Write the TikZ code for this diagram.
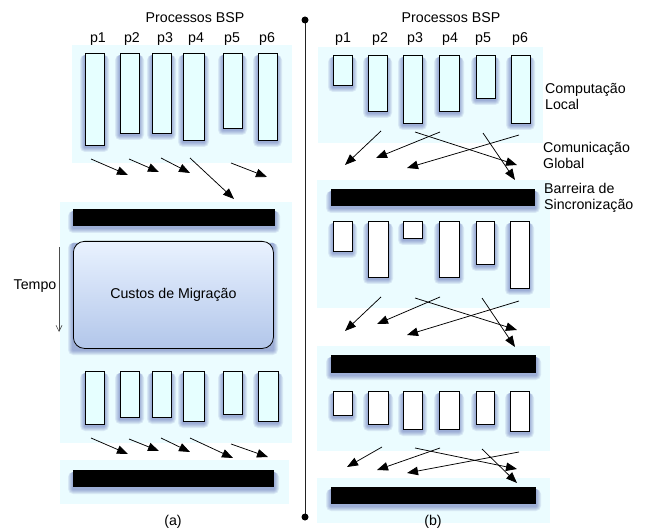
\documentclass[tikz,border=0pt]{standalone}
\usepackage{fontspec}
\setmainfont{Liberation Sans}
\usetikzlibrary{arrows.meta}
\definecolor{bgblue}{HTML}{EBFCFF}
\definecolor{barcyan}{HTML}{E6FFFF}
\definecolor{shblue}{HTML}{2A3A9A}
\definecolor{boxtop}{HTML}{E9F2FF}
\definecolor{boxbot}{HTML}{B2C6EA}
\definecolor{divgray}{HTML}{222222}
\tikzset{
 panel/.style={fill=bgblue, draw=none},
 procbar/.style={draw=black, line width=0.8pt, fill=barcyan, inner sep=0pt},
 whitebar/.style={procbar, fill=white},
 syncbar/.style={fill=black, draw=none, inner sep=0pt},
 flow/.style={-{Triangle[length=11pt,width=8.5pt]}, line width=0.75pt},
 lbl/.style={font=\fontsize{14.2}{16}\selectfont, inner sep=0pt},
 migbox/.style={draw=black, line width=0.8pt, rounded corners=11pt, top color=boxtop, bottom color=boxbot, inner sep=0pt, font=\fontsize{14.2}{16}\selectfont},
}
\newcommand\glowbox[4]{%
 \foreach \k in {1,...,5}{\fill[shblue, opacity=0.095, rounded corners=\k pt] ({#1-\k},{#2+2}) rectangle ({#3+\k},{#4+2+\k});}}
\newcommand\pbox[6]{%
 \glowbox{#3}{#4}{#5}{#6}
 \node[#1, anchor=north west, minimum width={(#5-#3)*1pt}, minimum height={(#6-#4)*1pt}] (#2) at (#3,#4) {};}
\newcommand\flowarrow[5]{\coordinate (#1s) at (#2,#3); \coordinate (#1e) at (#4,#5); \draw[flow] (#1s) -- (#1e);}
\begin{document}
\begin{tikzpicture}[x=1pt,y=-1pt]
\useasboundingbox (0,0) rectangle (653,529);
% ---------- panels
\fill[panel] (72,45) rectangle (292,163);
\fill[panel] (60,202) rectangle (292,443);
\fill[panel] (60,460) rectangle (289,504);
\fill[panel] (318,47) rectangle (543,143);
\fill[panel] (317,180) rectangle (550,308);
\fill[panel] (317,346) rectangle (550,451);
\fill[panel] (317,478) rectangle (550,523);
% ---------- left (a)
\node[lbl] (titleA) at (195,18) {Processos BSP};
\node[lbl] (a1) at (98,39) {p1};
\node[lbl] (a2) at (132,39) {p2};
\node[lbl] (a3) at (165,39) {p3};
\node[lbl] (a4) at (196,39) {p4};
\node[lbl] (a5) at (232,39) {p5};
\node[lbl] (a6) at (267,39) {p6};
\pbox{procbar}{LA1}{85}{53}{104}{145}
\pbox{procbar}{LA2}{120}{53}{139}{133}
\pbox{procbar}{LA3}{152}{53}{171}{133}
\pbox{procbar}{LA4}{183}{53}{204}{140}
\pbox{procbar}{LA5}{223}{53}{242}{128}
\pbox{procbar}{LA6}{258}{53}{277}{140}
\flowarrow{fa1}{91}{159}{128}{175}
\flowarrow{fa2}{129}{159}{159}{172}
\flowarrow{fa3}{161}{158}{190}{173}
\flowarrow{fa4}{190}{158}{234}{199}
\flowarrow{fa5}{231}{163}{267}{177}
\pbox{syncbar}{SA1}{73}{209}{275}{226}
\glowbox{73}{241}{273}{348}
\node[migbox, anchor=north west, minimum width=200pt, minimum height=107pt] (mig) at (73,241) {Custos de Migração};
\node[lbl] (tempo) at (35,286) {Tempo};
\coordinate (tempoS) at (59,247);
\coordinate (tempoE) at (59,332);
\draw[line width=0.6pt, draw=black!70, -{Straight Barb[length=6pt,width=6pt]}] (tempoS) -- (tempoE);
\pbox{procbar}{LB1}{85}{371}{104}{424}
\pbox{procbar}{LB2}{120}{371}{139}{417}
\pbox{procbar}{LB3}{152}{371}{171}{417}
\pbox{procbar}{LB4}{183}{371}{204}{421}
\pbox{procbar}{LB5}{223}{371}{242}{414}
\pbox{procbar}{LB6}{258}{371}{278}{421}
\flowarrow{fb1}{91}{438}{128}{454}
\flowarrow{fb2}{129}{439}{159}{451}
\flowarrow{fb3}{161}{438}{190}{452}
\flowarrow{fb4}{190}{438}{233}{458}
\flowarrow{fb5}{231}{444}{268}{457}
\pbox{syncbar}{SA2}{73}{470}{274}{487}
\node[lbl] (capA) at (173,522) {(a)};
% ---------- divider
\coordinate (divT) at (305,20);
\coordinate (divB) at (305,517);
\draw[divgray, line width=0.9pt] (divT) -- (divB);
\fill[black] (divT) circle (3.5);
\fill[black] (divB) circle (3.5);
% ---------- right (b)
\node[lbl] (titleB) at (451,18) {Processos BSP};
\node[lbl] (b1) at (343,39) {p1};
\node[lbl] (b2) at (380,39) {p2};
\node[lbl] (b3) at (415,39) {p3};
\node[lbl] (b4) at (450,39) {p4};
\node[lbl] (b5) at (483,39) {p5};
\node[lbl] (b6) at (520,39) {p6};
\pbox{procbar}{RA1}{333}{55}{352}{85}
\pbox{procbar}{RA2}{368}{55}{387}{111}
\pbox{procbar}{RA3}{403}{55}{422}{123}
\pbox{procbar}{RA4}{439}{55}{459}{111}
\pbox{procbar}{RA5}{476}{55}{495}{98}
\pbox{procbar}{RA6}{511}{55}{530}{123}
\node[lbl, anchor=west, align=left] (comp) at (545,96) {Computação\\Local};
\node[lbl, anchor=west, align=left] (comu) at (543,155.5) {Comunicação\\Global};
\node[lbl, anchor=west, align=left] (barr) at (544,197.5) {Barreira de\\Sincronização};
\flowarrow{ra1}{381}{131}{345}{165}
\flowarrow{ra2}{440}{132}{376}{158}
\flowarrow{ra3}{415}{132}{517}{165}
\flowarrow{ra4}{519}{135}{407}{168}
\flowarrow{ra5}{483}{133}{515}{180}
\pbox{syncbar}{SB1}{331}{189}{535}{206}
\pbox{whitebar}{RB1}{333}{221}{352}{251}
\pbox{whitebar}{RB2}{368}{221}{388}{277}
\pbox{whitebar}{RB3}{403}{221}{422}{238}
\pbox{whitebar}{RB4}{439}{221}{459}{277}
\pbox{whitebar}{RB5}{476}{221}{494}{264}
\pbox{whitebar}{RB6}{510}{221}{529}{288}
\flowarrow{rb1}{381}{297}{345}{331}
\flowarrow{rb2}{440}{297}{377}{324}
\flowarrow{rb3}{415}{298}{517}{330}
\flowarrow{rb4}{519}{301}{407}{335}
\flowarrow{rb5}{482}{298}{515}{347}
\pbox{syncbar}{SB2}{331}{355}{536}{373}
\pbox{whitebar}{RC1}{333}{391}{352}{415}
\pbox{whitebar}{RC2}{368}{391}{388}{424}
\pbox{whitebar}{RC3}{403}{391}{422}{429}
\pbox{whitebar}{RC4}{439}{391}{459}{429}
\pbox{whitebar}{RC5}{476}{391}{494}{424}
\pbox{whitebar}{RC6}{510}{391}{529}{431}
\flowarrow{rc1}{382}{447}{347}{467}
\flowarrow{rc2}{440}{448}{377}{470}
\flowarrow{rc3}{415}{448}{517}{469}
\flowarrow{rc4}{519}{452}{407}{473}
\flowarrow{rc5}{482}{449}{517}{483}
\pbox{syncbar}{SB3}{331}{487}{536}{504}
\node[lbl] (capB) at (433,522) {(b)};
\end{tikzpicture}
\end{document}
